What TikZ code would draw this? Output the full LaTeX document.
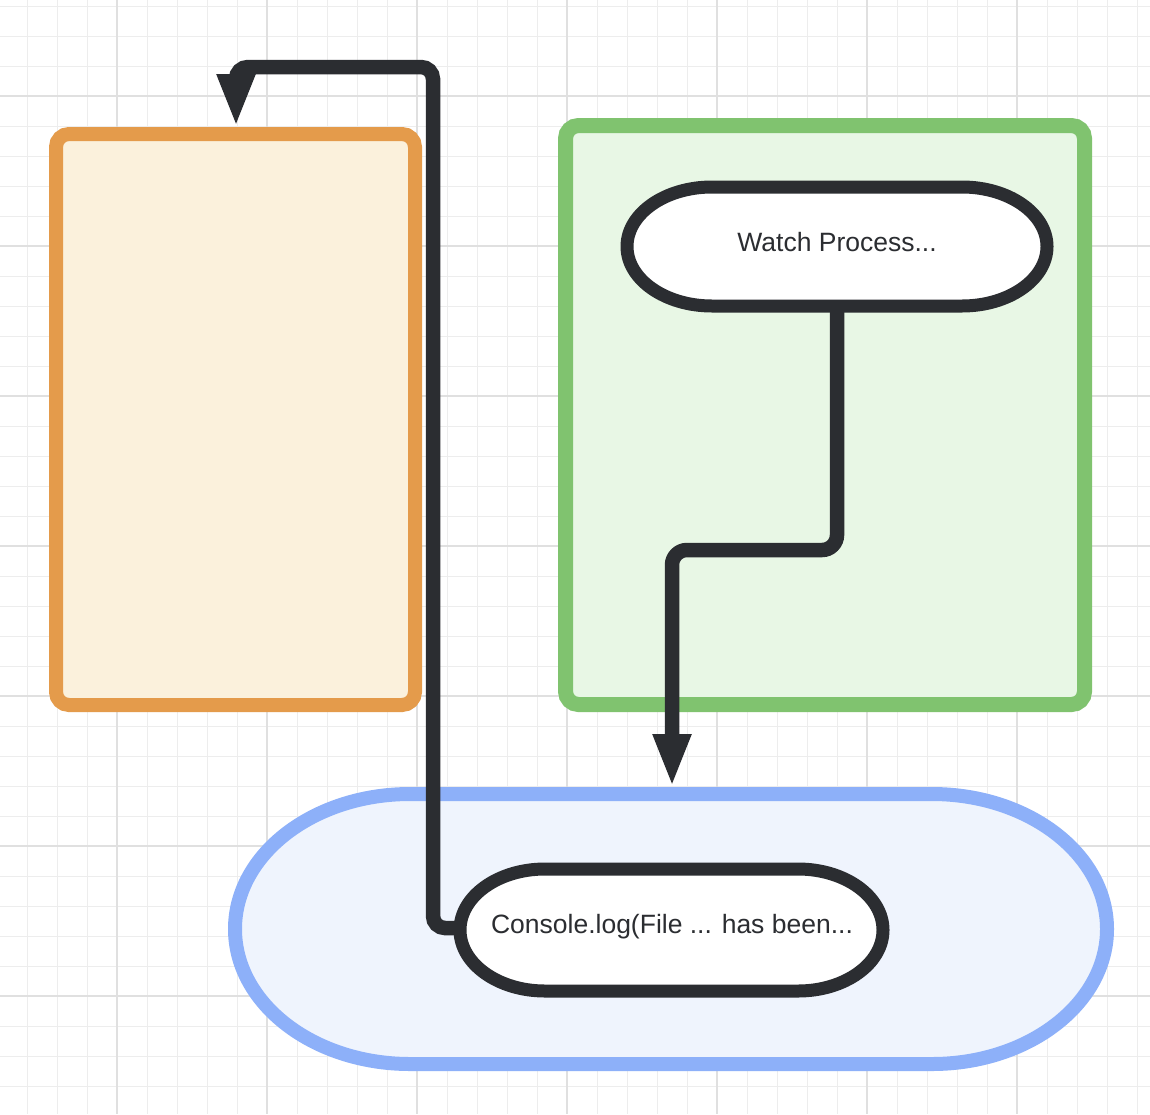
\documentclass[tikz,border=0pt]{standalone}
\usepackage{fontspec}
\setmainfont{Liberation Sans}
\usetikzlibrary{arrows.meta}
\definecolor{dark}{HTML}{2B2D31}
\definecolor{orstroke}{HTML}{E49B4B}
\definecolor{orfill}{HTML}{FBF1DC}
\definecolor{grstroke}{HTML}{80C36F}
\definecolor{grfill}{HTML}{E8F7E5}
\definecolor{blstroke}{HTML}{8DB0F9}
\definecolor{blfill}{HTML}{EFF4FD}
\definecolor{gridminor}{HTML}{EDEDED}
\definecolor{gridmajor}{HTML}{E0E0E0}
\tikzset{
  minorgrid/.style={draw=gridminor, line width=1pt},
  majorgrid/.style={draw=gridmajor, line width=1.2pt},
  container/.style={line width=14pt, rounded corners=13pt},
  terminal/.style={draw=dark, fill=white, line width=13pt},
  label/.style={font=\fontsize{26.5}{30}\selectfont, text=dark, inner sep=0pt},
  connector/.style={draw=dark, line width=14.5pt, rounded corners=15pt,
    -{Triangle[length=53pt,width=35pt]}},
}
\begin{document}
\begin{tikzpicture}[x=1pt,y=-1pt]
\useasboundingbox (0,0) rectangle (1150,1114);
\fill[white] (0,0) rectangle (1150,1114);
% grid
\foreach \x in {27,57,...,1150} \draw[minorgrid] (\x,0) -- (\x,1114);
\foreach \y in {6,36,...,1114} \draw[minorgrid] (0,\y) -- (1150,\y);
\foreach \x in {117,267,...,1150} \draw[majorgrid] (\x,0) -- (\x,1114);
\foreach \y in {96,246,...,1114} \draw[majorgrid] (0,\y) -- (1150,\y);
% orange container
\draw[container, draw=orstroke, fill=orfill] (56,134) rectangle (415,705);
\coordinate (orangetop) at (236,127);
% green container
\draw[container, draw=grstroke, fill=grfill, line width=15pt] (565.5,125.5) rectangle (1084.5,704.5);
% blue stadium
\draw[draw=blstroke, fill=blfill, line width=14pt]
  (410,794) -- (932,794)
  arc[start angle=-90, end angle=90, x radius=175, y radius=135]
  -- (410,1064)
  arc[start angle=90, end angle=270, x radius=175, y radius=135] -- cycle;
\coordinate (bluetop) at (672,787);
% watch process
\draw[terminal]
  (712,187) -- (962,187)
  arc[start angle=-90, end angle=90, x radius=85, y radius=59.5]
  -- (712,306)
  arc[start angle=90, end angle=270, x radius=85, y radius=59.5] -- cycle;
\node[label] (watch) at (837,242) {Watch Process...};
\coordinate (watchbottom) at (837,306);
% console
\draw[terminal]
  (545,869) -- (798,869)
  arc[start angle=-90, end angle=90, x radius=85, y radius=61]
  -- (545,991)
  arc[start angle=90, end angle=270, x radius=85, y radius=61] -- cycle;
\node[label] (console) at (672,927) {Console.log(File ... has been...};
\coordinate (consoleleft) at (457,928);
% connectors
\draw[connector] (watchbottom) -- (837,550) -- (672,550) -- (bluetop);
\draw[connector, rounded corners=12pt] (consoleleft) -- (433,928) -- (433,67) -- (236,67) -- (orangetop);
\end{tikzpicture}
\end{document}
